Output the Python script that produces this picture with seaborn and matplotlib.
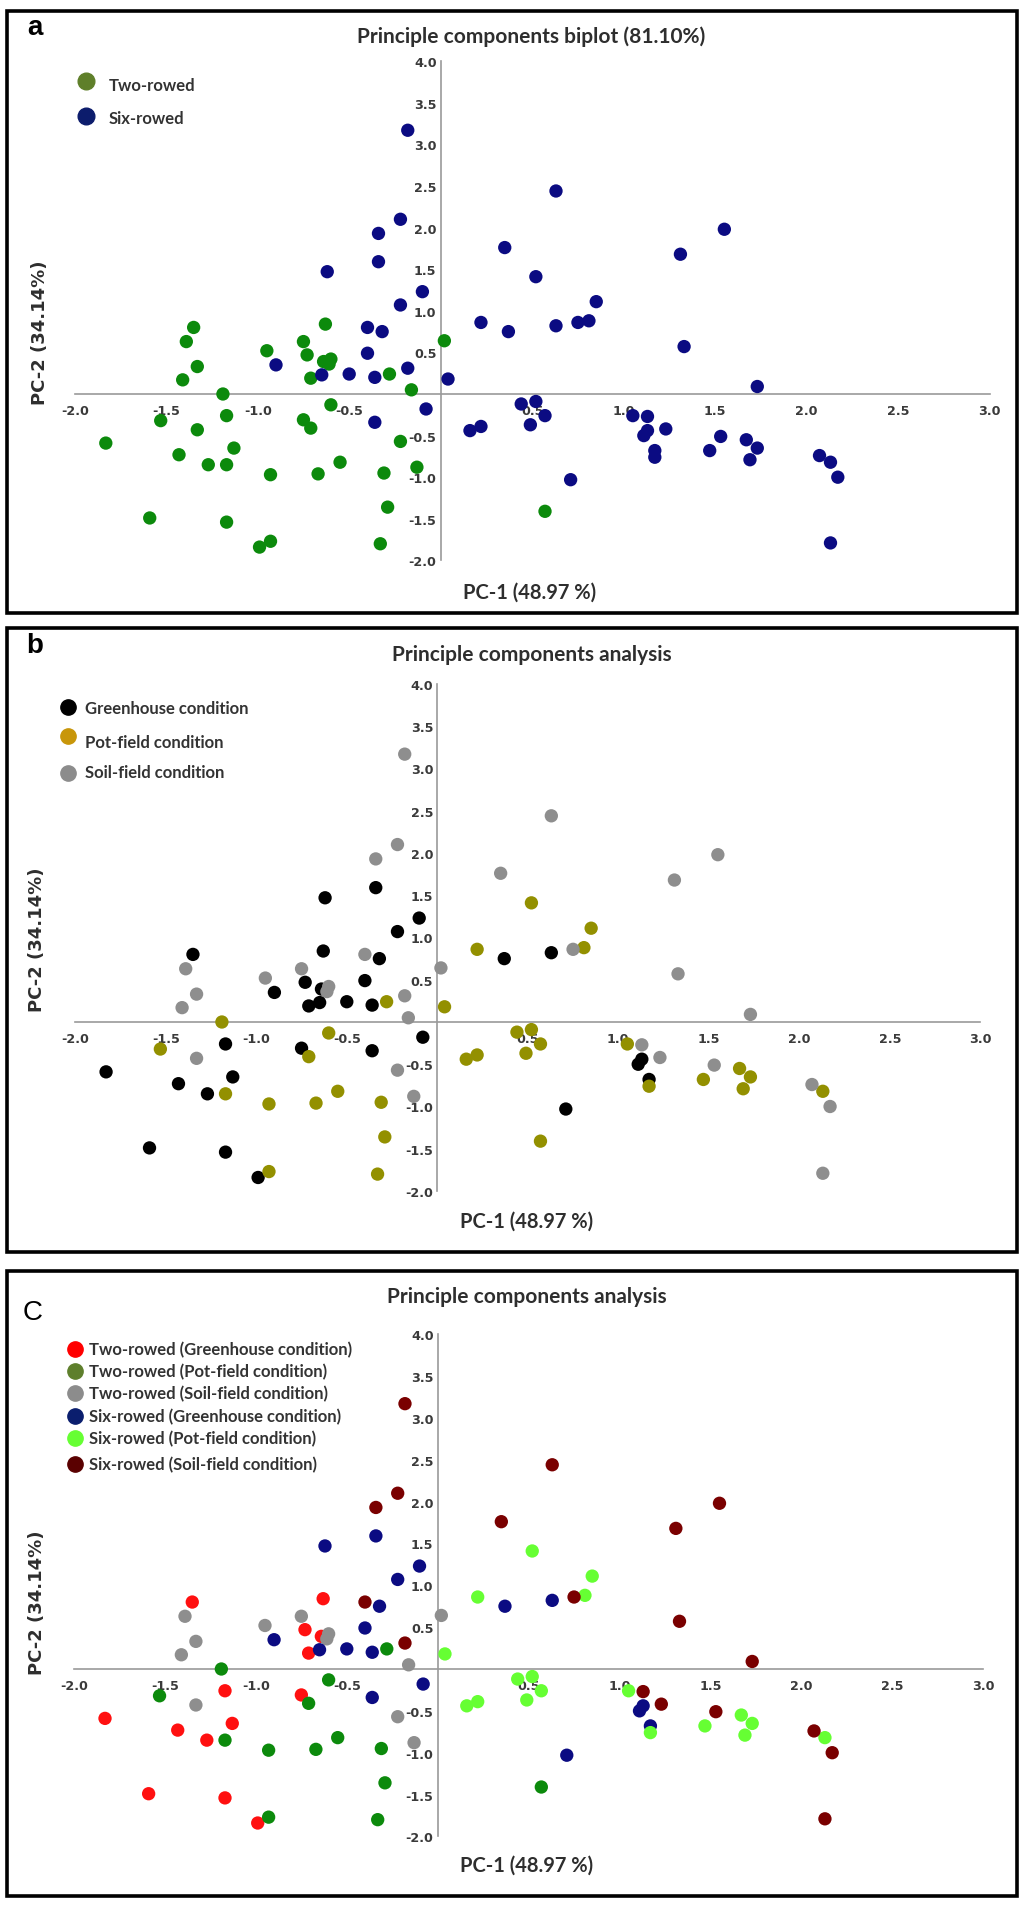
import matplotlib
matplotlib.use("Agg")
import matplotlib.pyplot as plt
from matplotlib.lines import Line2D
from matplotlib.patches import Rectangle
import seaborn as sns
import pandas as pd

# PCA scores (PC-1, PC-2) for each row type / condition
two_gh_pc1 = [-1.35, -0.63, -0.73, -0.64, -0.71, -1.17, -0.75, -1.83, -1.43, -1.13, -1.27, -1.59, -1.17, -0.99]
two_gh_pc2 = [0.80, 0.84, 0.47, 0.39, 0.19, -0.26, -0.31, -0.59, -0.73, -0.65, -0.85, -1.49, -1.54, -1.84]

two_pot_pc1 = [-1.19, -1.53, -0.60, -0.71, -0.28, -1.17, -0.93, -0.67, -0.55, -0.31, -0.29, -0.93, -0.33, 0.57]
two_pot_pc2 = [0.00, -0.32, -0.13, -0.41, 0.24, -0.85, -0.97, -0.96, -0.82, -0.95, -1.36, -1.77, -1.80, -1.41]

two_soil_pc1 = [-1.39, -1.33, -1.41, -0.95, -0.75, -0.60, -0.61, 0.02, -0.16, -1.33, -0.22, -0.13]
two_soil_pc2 = [0.63, 0.33, 0.17, 0.52, 0.63, 0.42, 0.36, 0.64, 0.05, -0.43, -0.57, -0.88]

six_gh_pc1 = [-0.62, -0.34, -0.10, -0.22, -0.32, -0.40, -0.90, -0.65, -0.50, -0.36, -0.08, -0.36,
              0.37, 0.63, 1.11, 1.13, 1.17, 0.71]
six_gh_pc2 = [1.47, 1.59, 1.23, 1.07, 0.75, 0.49, 0.35, 0.23, 0.24, 0.20, -0.18, -0.34,
              0.75, 0.82, -0.50, -0.44, -0.68, -1.03]

six_pot_pc1 = [0.04, 0.22, 0.52, 0.85, 0.81, 0.44, 0.52, 0.57, 0.49, 0.16, 0.22, 1.05,
               1.17, 1.47, 1.67, 1.73, 1.69, 2.13]
six_pot_pc2 = [0.18, 0.86, 1.41, 1.11, 0.88, -0.12, -0.09, -0.26, -0.37, -0.44, -0.39, -0.26,
               -0.76, -0.68, -0.55, -0.65, -0.79, -0.82]

six_soil_pc1 = [-0.18, -0.22, -0.34, -0.40, -0.18, 0.63, 0.35, 1.55, 1.31, 0.75, 1.33, 1.73,
                1.13, 1.23, 1.53, 2.07, 2.17, 2.13]
six_soil_pc2 = [3.17, 2.10, 1.93, 0.80, 0.31, 2.44, 1.76, 1.98, 1.68, 0.86, 0.57, 0.09,
                -0.27, -0.42, -0.51, -0.74, -1.00, -1.79]

group_labels = ["Two-rowed (Greenhouse condition)", "Two-rowed (Pot-field condition)",
                "Two-rowed (Soil-field condition)", "Six-rowed (Greenhouse condition)",
                "Six-rowed (Pot-field condition)", "Six-rowed (Soil-field condition)"]
row_labels = ["Two-rowed", "Six-rowed"]
cond_labels = ["Greenhouse condition", "Pot-field condition", "Soil-field condition"]

x_ticks = [-2.0, -1.5, -1.0, -0.5, 0.5, 1.0, 1.5, 2.0, 2.5, 3.0]
y_ticks = [-2.0, -1.5, -1.0, -0.5, 0.5, 1.0, 1.5, 2.0, 2.5, 3.0, 3.5, 4.0]

# build one long table
parts = [
    (two_gh_pc1, two_gh_pc2, 0, 0), (two_pot_pc1, two_pot_pc2, 0, 1), (two_soil_pc1, two_soil_pc2, 0, 2),
    (six_gh_pc1, six_gh_pc2, 1, 0), (six_pot_pc1, six_pot_pc2, 1, 1), (six_soil_pc1, six_soil_pc2, 1, 2),
]
rows = []
for gi, (xs, ys, r, c) in enumerate(parts):
    for x, y in zip(xs, ys):
        rows.append({"pc1": x, "pc2": y, "row": row_labels[r], "condition": cond_labels[c],
                     "group": group_labels[gi]})
df = pd.DataFrame(rows)

sns.set_style("white")
plt.rcParams["font.family"] = ["Lato", "DejaVu Sans"]

W, H = 1024, 1915
fig = plt.figure(figsize=(W / 100, H / 100), dpi=100)

XLIM = (-2.2, 3.15)
YLIM = (-2.5, 4.4)
TEXT = "#2e2e2e"


def make_axes(x0, xs, y0, ys):
    # x0/y0: pixel position of the origin, xs/ys: pixels per unit
    left = x0 + xs * XLIM[0]
    right = x0 + xs * XLIM[1]
    top = y0 - ys * YLIM[1]
    bottom = y0 - ys * YLIM[0]
    ax = fig.add_axes([left / W, 1 - bottom / H, (right - left) / W, (bottom - top) / H])
    ax.patch.set_alpha(0)
    return ax


def style_axes(ax):
    ax.set_xlim(*XLIM)
    ax.set_ylim(*YLIM)
    ax.spines["top"].set_visible(False)
    ax.spines["right"].set_visible(False)
    ax.spines["left"].set_position(("data", 0))
    ax.spines["bottom"].set_position(("data", 0))
    ax.spines["left"].set_bounds(-2, 4)
    ax.spines["bottom"].set_bounds(-2, 3)
    for s in ["left", "bottom"]:
        ax.spines[s].set_color("#9a9a9a")
        ax.spines[s].set_linewidth(1.2)
    ax.set_xticks(x_ticks)
    ax.set_xticklabels([f"{t:.1f}" for t in x_ticks])
    ax.set_yticks(y_ticks)
    ax.set_yticklabels([f"{t:.1f}" for t in y_ticks])
    ax.tick_params(axis="x", direction="in", length=4, width=1, color="#9a9a9a", pad=7)
    ax.tick_params(axis="y", direction="out", length=2.5, width=1, color="#9a9a9a", pad=0.5)
    for lab in ax.get_xticklabels() + ax.get_yticklabels():
        lab.set_family("DejaVu Sans")
        lab.set_weight("bold")
        lab.set_fontsize(9.2)
        lab.set_color("#3a3a3a")
    ax.set_xlabel("")
    ax.set_ylabel("")


def frame(top, bottom):
    fig.add_artist(Rectangle((7 / W, 1 - bottom / H), 1010 / W, (bottom - top) / H,
                             transform=fig.transFigure, fill=False, lw=2.6, ec="black"))


def texts(letter, letter_xy, letter_weight, title, title_xy, pc1_xy, pc2_xy):
    fig.text(letter_xy[0] / W, 1 - letter_xy[1] / H, letter, ha="center", va="baseline",
             fontsize=20, weight=letter_weight, family="Liberation Sans", color="black")
    fig.text(title_xy[0] / W, 1 - title_xy[1] / H, title, ha="center", va="center",
             fontsize=15, weight="bold", color=TEXT)
    fig.text(pc1_xy[0] / W, 1 - pc1_xy[1] / H, "PC-1 (48.97 %)", ha="center", va="center",
             fontsize=14.5, weight="bold", color=TEXT)
    fig.text(pc2_xy[0] / W, 1 - pc2_xy[1] / H, "PC-2 (34.14%)", ha="center", va="center",
             rotation=90, fontsize=13, weight="bold", family="DejaVu Sans", color=TEXT)


def legend(labels, colors, mx, marker_ys, tx, text_ys, size=11, fs=12):
    for lab, col, my, ty in zip(labels, colors, marker_ys, text_ys):
        fig.add_artist(Line2D([mx / W], [1 - my / H], transform=fig.transFigure, marker="o",
                              markersize=size, color=col, linestyle="none"))
        fig.text(tx / W, 1 - ty / H, lab, ha="left", va="center", fontsize=fs,
                 weight="bold", color="#333333")


PT = 92  # marker area for the data points

# ---- panel a: by row type
frame(12, 614)
ax_a = make_axes(440.7, 183.0, 395, 83.2)
sns.scatterplot(data=df, x="pc1", y="pc2", hue="row", hue_order=row_labels,
                palette={"Two-rowed": "#0c8a0c", "Six-rowed": "#0b0b82"},
                s=PT, linewidth=0, legend=False, zorder=3, ax=ax_a)
style_axes(ax_a)
texts("a", (35, 35), "bold", "Principle components biplot (81.10%)", (531, 37), (530, 593), (40, 333))
legend(row_labels, ["#5f7f2a", "#0c1c6c"], 86, [82, 117], 109, [86, 119], size=12)

# ---- panel b: by growing condition
frame(629, 1253)
ax_b = make_axes(437.3, 181.0, 1023, 84.5)
sns.scatterplot(data=df, x="pc1", y="pc2", hue="condition", hue_order=cond_labels,
                palette={cond_labels[0]: "#000000", cond_labels[1]: "#939000", cond_labels[2]: "#8e8e8e"},
                s=PT, linewidth=0, legend=False, zorder=3, ax=ax_b)
style_axes(ax_b)
texts("b", (35, 653), "bold", "Principle components analysis", (532, 655), (527, 1222), (37, 940))
legend(cond_labels, ["#000000", "#c8960a", "#8c8c8c"], 68, [708, 737, 774], 85, [709, 743, 773])

# ---- panel c: row type x condition
frame(1272, 1897)
ax_c = make_axes(437.7, 181.8, 1670, 83.7)
group_colors = ["#ff1010", "#0c8a0c", "#8e8e8e", "#0b0b82", "#66ff33", "#7a0000"]
sns.scatterplot(data=df, x="pc1", y="pc2", hue="group", hue_order=group_labels,
                palette=dict(zip(group_labels, group_colors)),
                s=PT, linewidth=0, legend=False, zorder=3, ax=ax_c)
style_axes(ax_c)
texts("C", (33, 1320), "normal", "Principle components analysis", (527, 1297), (527, 1866), (37, 1603))
c_ys = [1350, 1372, 1394, 1417, 1439, 1465]
legend(group_labels, ["#ff0000", "#5e7f2c", "#8c8c8c", "#0a1e6e", "#66ff33", "#5a0000"],
       75, c_ys, 89, c_ys)

fig.savefig("out.png", dpi=100)
